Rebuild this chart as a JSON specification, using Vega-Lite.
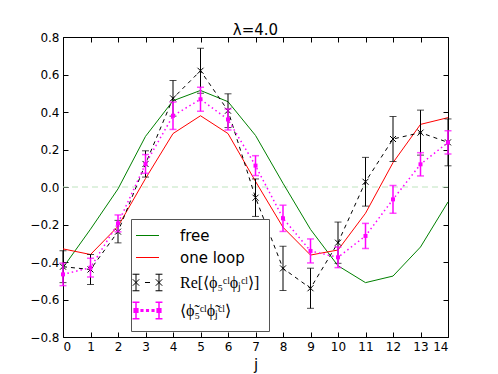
{
  "$schema": "https://vega.github.io/schema/vega-lite/v6.json",
  "width": 385,
  "height": 300,
  "autosize": "none",
  "padding": {"left": 63, "top": 37, "right": 50, "bottom": 37},
  "background": "white",
  "title": {"text": "λ=4.0", "fontSize": 15, "fontWeight": "normal", "font": "DejaVu Sans", "offset": 3, "dy": 22, "baseline": "alphabetic", "color": "black", "anchor": "middle"},
  "config": {
    "view": {"stroke": "black", "strokeWidth": 1},
    "axis": {"domain": false, "grid": false, "tickColor": "black", "tickSize": -5, "labelColor": "black", "labelFont": "DejaVu Sans", "labelFontSize": 12, "titleFont": "DejaVu Sans", "titleFontSize": 15, "titleFontWeight": "normal", "titleColor": "black"}
  },
  "datasets": {
    "d": [
      {"j": 0, "series": "free", "value": -0.43},
      {"j": 1, "series": "free", "value": -0.225},
      {"j": 2, "series": "free", "value": -0.01},
      {"j": 3, "series": "free", "value": 0.27},
      {"j": 4, "series": "free", "value": 0.46},
      {"j": 5, "series": "free", "value": 0.515},
      {"j": 6, "series": "free", "value": 0.455},
      {"j": 7, "series": "free", "value": 0.275},
      {"j": 8, "series": "free", "value": 0.02},
      {"j": 9, "series": "free", "value": -0.226},
      {"j": 10, "series": "free", "value": -0.42},
      {"j": 11, "series": "free", "value": -0.51},
      {"j": 12, "series": "free", "value": -0.475},
      {"j": 13, "series": "free", "value": -0.32},
      {"j": 14, "series": "free", "value": -0.08},
      {"j": 0, "series": "one loop", "value": -0.33},
      {"j": 1, "series": "one loop", "value": -0.36},
      {"j": 2, "series": "one loop", "value": -0.21},
      {"j": 3, "series": "one loop", "value": 0.045},
      {"j": 4, "series": "one loop", "value": 0.285},
      {"j": 5, "series": "one loop", "value": 0.38},
      {"j": 6, "series": "one loop", "value": 0.285},
      {"j": 7, "series": "one loop", "value": 0.03},
      {"j": 8, "series": "one loop", "value": -0.215},
      {"j": 9, "series": "one loop", "value": -0.363},
      {"j": 10, "series": "one loop", "value": -0.336},
      {"j": 11, "series": "one loop", "value": -0.14},
      {"j": 12, "series": "one loop", "value": 0.13},
      {"j": 13, "series": "one loop", "value": 0.334},
      {"j": 14, "series": "one loop", "value": 0.37},
      {"j": 0, "series": "Re", "value": -0.425, "err": 0.085},
      {"j": 1, "series": "Re", "value": -0.44, "err": 0.08},
      {"j": 2, "series": "Re", "value": -0.238, "err": 0.06},
      {"j": 3, "series": "Re", "value": 0.123, "err": 0.07},
      {"j": 4, "series": "Re", "value": 0.473, "err": 0.095},
      {"j": 5, "series": "Re", "value": 0.62, "err": 0.12},
      {"j": 6, "series": "Re", "value": 0.407, "err": 0.09},
      {"j": 7, "series": "Re", "value": -0.057, "err": 0.1},
      {"j": 8, "series": "Re", "value": -0.434, "err": 0.118},
      {"j": 9, "series": "Re", "value": -0.54, "err": 0.107},
      {"j": 10, "series": "Re", "value": -0.297, "err": 0.11},
      {"j": 11, "series": "Re", "value": 0.028, "err": 0.13},
      {"j": 12, "series": "Re", "value": 0.256, "err": 0.12},
      {"j": 13, "series": "Re", "value": 0.29, "err": 0.12},
      {"j": 14, "series": "Re", "value": 0.238, "err": 0.125},
      {"j": 0, "series": "tilde", "value": -0.466, "err": 0.06},
      {"j": 1, "series": "tilde", "value": -0.43, "err": 0.05},
      {"j": 2, "series": "tilde", "value": -0.194, "err": 0.045},
      {"j": 3, "series": "tilde", "value": 0.123, "err": 0.05},
      {"j": 4, "series": "tilde", "value": 0.38, "err": 0.073},
      {"j": 5, "series": "tilde", "value": 0.468, "err": 0.064},
      {"j": 6, "series": "tilde", "value": 0.36, "err": 0.056},
      {"j": 7, "series": "tilde", "value": 0.114, "err": 0.053},
      {"j": 8, "series": "tilde", "value": -0.167, "err": 0.07},
      {"j": 9, "series": "tilde", "value": -0.341, "err": 0.064},
      {"j": 10, "series": "tilde", "value": -0.375, "err": 0.055},
      {"j": 11, "series": "tilde", "value": -0.261, "err": 0.067},
      {"j": 12, "series": "tilde", "value": -0.066, "err": 0.074},
      {"j": 13, "series": "tilde", "value": 0.121, "err": 0.062},
      {"j": 14, "series": "tilde", "value": 0.238, "err": 0.062}
    ]
  },
  "layer": [
    {
      "data": {"values": [{"zero": 0}]},
      "mark": {"type": "rule", "color": "#bfe3bf", "strokeDash": [6, 4], "strokeWidth": 1},
      "encoding": {"y": {"field": "zero", "type": "quantitative", "scale": {"domain": [-0.8, 0.8], "nice": false}, "axis": null}}
    },
    {
      "data": {"name": "d"},
      "transform": [{"filter": "datum.series == 'free'"}],
      "mark": {"type": "line", "color": "#008000", "strokeWidth": 1},
      "encoding": {
        "x": {"field": "j", "type": "quantitative", "scale": {"domain": [0, 14], "nice": false}, "axis": {"orient": "bottom", "values": [0,1,2,3,4,5,6,7,8,9,10,11,12,13,14], "title": "j", "labelPadding": 9, "titlePadding": 5}},
        "y": {"field": "value", "type": "quantitative", "scale": {"domain": [-0.8, 0.8], "nice": false}, "axis": {"orient": "left", "values": [-0.8,-0.6,-0.4,-0.2,0,0.2,0.4,0.6,0.8], "format": ".1f", "title": null, "labelPadding": 9}}
      }
    },
    {
      "data": {"name": "d"},
      "transform": [{"filter": "datum.series == 'one loop'"}],
      "mark": {"type": "line", "strokeWidth": 1},
      "encoding": {
        "x": {"field": "j", "type": "quantitative", "scale": {"domain": [0, 14], "nice": false}, "axis": {"orient": "top", "labels": false, "title": null, "values": [0,1,2,3,4,5,6,7,8,9,10,11,12,13,14]}},
        "y": {"field": "value", "type": "quantitative", "scale": {"domain": [-0.8, 0.8], "nice": false}, "axis": {"orient": "right", "labels": false, "title": null, "values": [-0.8,-0.6,-0.4,-0.2,0,0.2,0.4,0.6,0.8]}},
        "color": {
          "field": "series", "type": "nominal",
          "scale": {"domain": ["free", "one loop", "Re", "tilde"], "range": ["#008000", "#ff0000", "#000000", "#ff00ff"]},
          "legend": {
            "orient": "none", "legendX": 68, "legendY": 182, "title": null,
            "labelExpr": "datum.value == 'Re' ? 'Re[⟨ϕ₅ᶜˡϕⱼᶜˡ⟩]' : datum.value == 'tilde' ? '⟨ϕ̃₅ᶜˡϕ̃ⱼᶜˡ⟩' : datum.value",
            "labelFontSize": 15, "labelFont": "DejaVu Sans", "labelColor": "black", "labelLimit": 0,
            "symbolSize": 529, "symbolType": "stroke", "symbolStrokeWidth": 1,
            "labelOffset": 25, "rowPadding": 6, "padding": 9,
            "strokeColor": "#555555", "fillColor": "white", "cornerRadius": 0,
            "encode": {
              "symbols": {"update": {
                "shape": {"signal": "datum.value == 'Re' ? 'M-1,-0.72L-1,0.72M1,-0.72L1,0.72M-1.3,-0.72L-0.7,-0.72M-1.3,0.72L-0.7,0.72M0.7,-0.72L1.3,-0.72M0.7,0.72L1.3,0.72M-0.22,0L0.22,0M-1.28,-0.28L-0.72,0.28M-1.28,0.28L-0.72,-0.28M0.72,-0.28L1.28,0.28M0.72,0.28L1.28,-0.28' : datum.value == 'tilde' ? 'M-1,-0.72L-1,0.72M1,-0.72L1,0.72M-1.3,-0.72L-0.7,-0.72M-1.3,0.72L-0.7,0.72M0.7,-0.72L1.3,-0.72M0.7,0.72L1.3,0.72M-1.16,-0.16L-0.84,-0.16L-0.84,0.16L-1.16,0.16ZM0.84,-0.16L1.16,-0.16L1.16,0.16L0.84,0.16ZM-0.55,-0.07L-0.41,-0.07L-0.41,0.07L-0.55,0.07ZM-0.07,-0.07L0.07,-0.07L0.07,0.07L-0.07,0.07ZM0.41,-0.07L0.55,-0.07L0.55,0.07L0.41,0.07Z' : 'stroke'"},
                "stroke": {"signal": "datum.value == 'free' ? '#008000' : datum.value == 'one loop' ? '#ff0000' : datum.value == 'Re' ? '#000000' : '#ff00ff'"},
                "fill": {"signal": "datum.value == 'tilde' ? '#ff00ff' : 'transparent'"},
                "strokeWidth": {"signal": "datum.value == 'tilde' ? 1.5 : 1"},
                "opacity": {"value": 1}
              }},
              "labels": {"update": {
                "font": {"signal": "datum.value == 'Re' || datum.value == 'tilde' ? 'Liberation Serif' : 'DejaVu Sans'"},
                "fontSize": {"signal": "datum.value == 'Re' || datum.value == 'tilde' ? 16 : 15"}
              }}
            }
          }
        }
      }
    },
    {
      "data": {"name": "d"},
      "transform": [{"filter": "datum.series == 'Re'"}],
      "mark": {"type": "errorbar", "color": "black", "thickness": 1, "ticks": {"size": 7}},
      "encoding": {
        "x": {"field": "j", "type": "quantitative", "scale": {"domain": [0, 14], "nice": false}, "axis": null},
        "y": {"field": "value", "type": "quantitative", "scale": {"domain": [-0.8, 0.8], "nice": false}, "axis": null},
        "yError": {"field": "err"}
      }
    },
    {
      "data": {"name": "d"},
      "transform": [{"filter": "datum.series == 'Re'"}],
      "mark": {"type": "line", "color": "black", "strokeWidth": 1, "strokeDash": [4, 4]},
      "encoding": {
        "x": {"field": "j", "type": "quantitative", "scale": {"domain": [0, 14], "nice": false}, "axis": null},
        "y": {"field": "value", "type": "quantitative", "scale": {"domain": [-0.8, 0.8], "nice": false}, "axis": null}
      }
    },
    {
      "data": {"name": "d"},
      "transform": [{"filter": "datum.series == 'Re'"}],
      "mark": {"type": "point", "shape": "M-1,-1L1,1M-1,1L1,-1", "size": 36, "filled": false, "color": "black", "strokeWidth": 1, "opacity": 1},
      "encoding": {
        "x": {"field": "j", "type": "quantitative", "scale": {"domain": [0, 14], "nice": false}, "axis": null},
        "y": {"field": "value", "type": "quantitative", "scale": {"domain": [-0.8, 0.8], "nice": false}, "axis": null}
      }
    },
    {
      "data": {"name": "d"},
      "transform": [{"filter": "datum.series == 'tilde'"}],
      "mark": {"type": "errorbar", "color": "#ff00ff", "thickness": 1.5, "ticks": {"size": 7}},
      "encoding": {
        "x": {"field": "j", "type": "quantitative", "scale": {"domain": [0, 14], "nice": false}, "axis": null},
        "y": {"field": "value", "type": "quantitative", "scale": {"domain": [-0.8, 0.8], "nice": false}, "axis": null},
        "yError": {"field": "err"}
      }
    },
    {
      "data": {"name": "d"},
      "transform": [{"filter": "datum.series == 'tilde'"}],
      "mark": {"type": "line", "color": "#ff00ff", "strokeWidth": 1.5, "strokeDash": [1.5, 3]},
      "encoding": {
        "x": {"field": "j", "type": "quantitative", "scale": {"domain": [0, 14], "nice": false}, "axis": null},
        "y": {"field": "value", "type": "quantitative", "scale": {"domain": [-0.8, 0.8], "nice": false}, "axis": null}
      }
    },
    {
      "data": {"name": "d"},
      "transform": [{"filter": "datum.series == 'tilde'"}],
      "mark": {"type": "point", "shape": "square", "size": 16, "filled": true, "color": "#ff00ff", "opacity": 1},
      "encoding": {
        "x": {"field": "j", "type": "quantitative", "scale": {"domain": [0, 14], "nice": false}, "axis": null},
        "y": {"field": "value", "type": "quantitative", "scale": {"domain": [-0.8, 0.8], "nice": false}, "axis": null}
      }
    }
  ],
  "resolve": {"axis": {"x": "independent", "y": "independent"}}
}
